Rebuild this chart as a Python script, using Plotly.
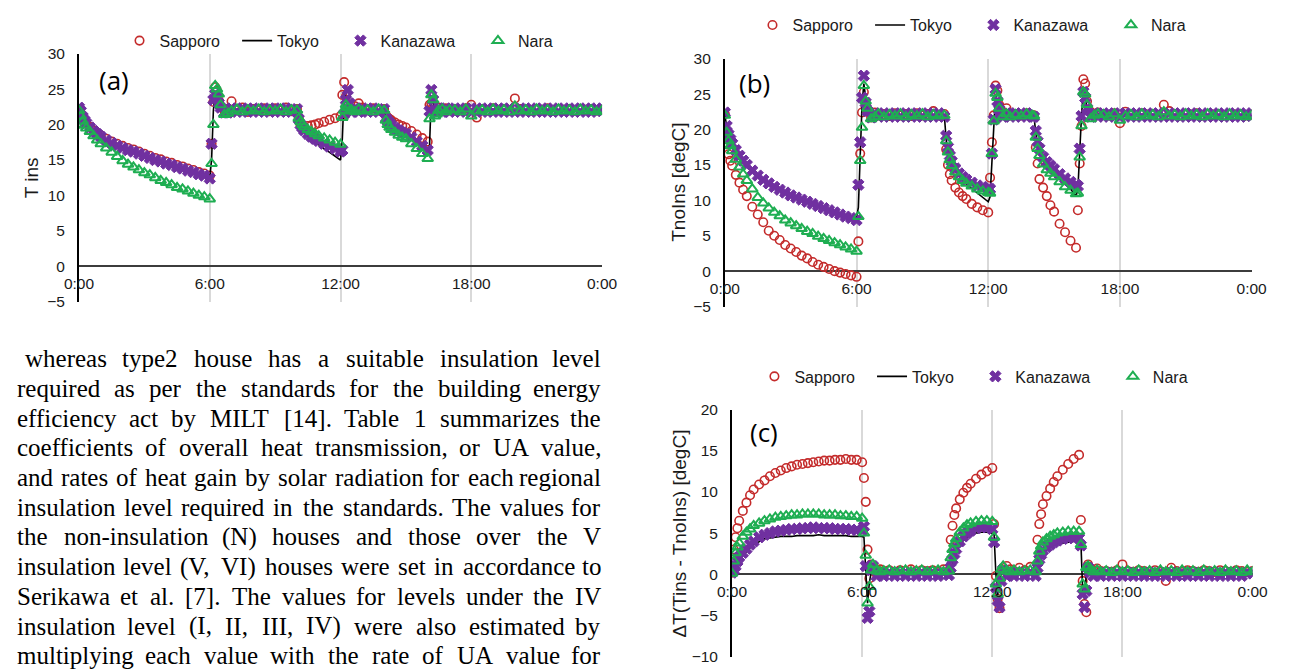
import plotly.graph_objects as go

W, H = 1293, 671

# ---------------- data ----------------
minutes = [0, 5, 10, 15, 20, 30, 40, 50, 60, 75, 90, 105, 120, 135, 150, 165, 180, 195, 210, 225, 240, 255, 270, 285, 300, 315, 330, 345, 360,
           365, 370, 375, 380, 385, 390, 400, 410, 420, 435, 450, 465, 480, 495, 510, 525, 540, 555, 570, 585, 600,
           605, 610, 615, 620, 630, 640, 650, 660, 675, 690, 705, 720,
           725, 730, 735, 740, 745, 750, 760, 770, 780, 795, 810, 825, 840,
           845, 850, 855, 860, 870, 880, 890, 900, 915, 930, 945, 960,
           965, 970, 975, 980, 985, 990, 1000, 1010, 1020,
           1035, 1050, 1065, 1080, 1095, 1110, 1125, 1140, 1155, 1170, 1185, 1200, 1215, 1230,
           1245, 1260, 1275, 1290, 1305, 1320, 1335, 1350, 1365, 1380, 1395, 1410, 1425, 1440]

tick_minutes = [0, 360, 720, 1080, 1440]
tick_labels = ["0:00", "6:00", "12:00", "18:00", "0:00"]
series_names = ["Sapporo", "Tokyo", "Kanazawa", "Nara"]

a_sapporo = [22.2, 21.6, 21.0, 20.6, 20.2, 19.7, 19.2, 18.8, 18.5, 18.0, 17.6, 17.3, 17.0, 16.7, 16.5, 16.2, 15.9, 15.6, 15.3, 15.1, 14.8, 14.6, 14.3, 14.1, 13.8, 13.6, 13.3, 13.1, 12.8,
             17.3, 23.2, 25.3, 24.8, 23.4, 22.6, 22.0, 22.2, 23.3, 22.2, 22.4, 21.8, 22.2, 22.0, 22.3, 21.9, 22.3, 22.0, 22.4, 21.9, 22.2,
             20.9, 20.0, 19.6, 19.6, 19.8, 19.9, 20.0, 20.2, 20.4, 20.7, 20.9, 21.2,
             24.2, 26.0, 24.0, 22.8, 22.0, 22.3, 22.6, 23.0, 22.4, 22.1, 22.3, 22.0, 22.2,
             21.3, 21.0, 20.8, 20.6, 20.3, 20.0, 19.8, 19.6, 19.1, 18.6, 18.1, 17.6,
             22.8, 23.0, 22.5, 22.0, 21.8, 22.4, 22.0, 22.3, 22.0,
             22.2, 22.0, 22.3, 22.8, 21.0, 22.2, 22.0, 22.3, 22.1, 22.2, 22.0, 23.7, 22.2, 22.1,
             22.0, 22.2, 22.1, 22.3, 22.0, 22.2, 22.1, 22.2, 22.0, 22.2, 22.1, 22.2, 22.0, 22.1]
a_tokyo = [22.0, 21.7, 21.0, 20.5, 20.1, 19.5, 19.0, 18.6, 18.2, 17.7, 17.3, 16.9, 16.6, 16.3, 16.1, 15.8, 15.5, 15.2, 14.9, 14.7, 14.4, 14.2, 13.9, 13.7, 13.4, 13.2, 12.9, 12.7, 12.5,
           15.0, 22.0, 24.5, 24.0, 23.0, 22.4, 21.8, 21.8, 22.2, 21.9, 22.2, 21.9, 22.2, 21.9, 22.2, 21.9, 22.2, 21.9, 22.2, 21.9, 22.1,
           20.6, 19.8, 19.3, 18.9, 18.3, 17.9, 17.5, 17.1, 16.6, 16.1, 15.6, 15.0,
           18.0, 24.5, 23.8, 22.8, 22.2, 21.9, 22.2, 21.9, 22.2, 21.9, 22.2, 21.9, 22.1,
           21.0, 20.5, 20.1, 19.8, 19.4, 19.1, 18.8, 18.5, 18.0, 17.5, 17.0, 16.6,
           17.0, 24.0, 23.0, 22.0, 21.8, 22.2, 21.9, 22.2, 21.9,
           22.1, 21.9, 22.1, 22.0, 21.9, 22.1, 22.0, 21.9, 22.1, 22.0, 21.9, 22.1, 22.0, 21.9,
           22.1, 22.0, 21.9, 22.1, 22.0, 21.9, 22.1, 22.0, 21.9, 22.1, 22.0, 21.9, 22.1, 22.0]
a_kanazawa = [22.4, 21.9, 21.1, 20.6, 20.2, 19.6, 19.1, 18.7, 18.3, 17.8, 17.4, 17.0, 16.7, 16.4, 16.2, 15.9, 15.6, 15.3, 15.0, 14.8, 14.5, 14.3, 14.0, 13.8, 13.5, 13.3, 13.0, 12.8, 12.4,
              17.3, 23.5, 24.3, 23.8, 23.0, 22.4, 21.7, 21.7, 22.3, 21.8, 22.3, 21.8, 22.3, 21.8, 22.3, 21.8, 22.3, 21.8, 22.3, 21.8, 22.2,
              20.8, 20.0, 19.6, 19.2, 18.7, 18.3, 18.0, 17.7, 17.3, 16.9, 16.6, 16.2,
              16.4, 21.5, 23.5, 24.9, 23.0, 21.8, 22.3, 21.8, 22.3, 21.8, 22.3, 21.8, 22.2,
              20.9, 20.5, 20.2, 19.9, 19.5, 19.2, 18.9, 18.7, 18.2, 17.6, 17.0, 16.4,
              21.9, 24.9, 23.5, 22.0, 21.7, 22.3, 21.8, 22.3, 21.8,
              22.3, 21.8, 22.3, 21.8, 22.3, 21.8, 22.3, 21.8, 22.3, 21.8, 22.3, 21.8, 22.3, 21.8,
              22.3, 21.8, 22.3, 21.8, 22.3, 21.8, 22.3, 21.8, 22.3, 21.8, 22.3, 21.8, 22.3, 21.9]
a_nara = [22.0, 21.2, 20.5, 19.9, 19.5, 19.0, 18.4, 17.8, 17.3, 16.7, 16.1, 15.5, 14.9, 14.4, 14.0, 13.6, 13.2, 12.9, 12.5, 12.1, 11.8, 11.5, 11.1, 10.9, 10.6, 10.3, 10.0, 9.8, 9.5,
          14.5, 20.0, 25.5, 25.0, 24.3, 22.8, 21.4, 21.6, 21.9, 22.2, 21.8, 22.1, 21.9, 22.2, 21.8, 22.1, 21.9, 22.2, 21.8, 22.1, 22.0,
          20.9, 20.4, 20.0, 19.7, 19.3, 19.0, 18.7, 18.4, 18.1, 17.8, 17.5, 17.2,
          21.0, 22.0, 22.8, 22.4, 21.9, 22.1, 21.8, 22.2, 21.9, 22.1, 21.8, 22.2, 22.0,
          20.6, 20.0, 19.6, 19.3, 18.9, 18.5, 18.2, 18.0, 17.3, 16.6, 15.9, 15.2,
          20.8, 24.2, 23.5, 21.2, 21.5, 22.0, 22.2, 21.8, 22.1,
          22.1, 21.8, 22.2, 21.2, 21.9, 22.1, 21.8, 22.2, 21.9, 22.1, 21.8, 22.6, 21.9, 22.1,
          21.8, 22.2, 21.9, 22.1, 21.8, 22.2, 21.9, 22.1, 21.8, 22.2, 21.9, 22.1, 21.8, 22.0]

b_sapporo = [22.2, 18.0, 16.5, 15.6, 14.9, 13.6, 12.5, 11.5, 10.6, 9.1, 8.0, 6.9, 5.7, 5.0, 4.4, 3.7, 3.2, 2.7, 2.2, 1.8, 1.3, 0.9, 0.6, 0.3, 0.0, -0.2, -0.4, -0.6, -0.8,
             4.2, 16.6, 22.4, 25.3, 23.2, 22.5, 21.7, 22.4, 22.0, 22.2, 21.9, 22.3, 22.0, 22.2, 21.9, 22.3, 22.0, 22.2, 22.6, 22.0, 22.2,
             17.2, 15.0, 13.7, 12.8, 11.8, 11.1, 10.6, 10.2, 9.5, 9.0, 8.6, 8.3,
             13.2, 18.2, 22.0, 26.2, 25.5, 23.5, 22.5, 23.0, 22.0, 22.2, 22.0, 22.3, 22.0,
             22.0, 17.5, 15.2, 13.0, 11.8, 10.6, 9.3, 8.4, 6.7, 5.5, 4.3, 3.3,
             8.6, 15.2, 20.5, 27.1, 26.5, 24.0, 22.5, 22.0, 22.4,
             22.2, 22.0, 22.3, 20.9, 22.5, 22.1, 22.0, 22.3, 22.1, 22.2, 22.0, 23.5, 22.6, 22.1,
             22.0, 22.2, 22.1, 22.3, 22.0, 22.2, 22.1, 22.2, 22.0, 22.2, 22.1, 22.2, 22.0, 22.1]
b_tokyo = [22.2, 20.3, 19.2, 18.5, 17.9, 17.0, 16.3, 15.6, 15.0, 14.2, 13.6, 13.0, 12.5, 12.0, 11.6, 11.2, 10.8, 10.5, 10.2, 9.9, 9.6, 9.3, 9.0, 8.7, 8.4, 8.1, 7.9, 7.7, 7.6,
           9.0, 17.5, 23.5, 26.5, 24.0, 22.5, 21.8, 22.2, 21.9, 22.2, 21.9, 22.2, 21.9, 22.2, 21.9, 22.2, 21.9, 22.2, 21.9, 22.2, 22.0,
           18.6, 17.0, 15.9, 15.1, 14.1, 13.4, 12.8, 12.3, 11.7, 11.0, 10.4, 9.8,
           10.5, 16.0, 21.5, 25.0, 24.0, 23.0, 22.2, 21.9, 22.2, 21.9, 22.2, 21.9, 22.1,
           21.9, 19.5, 17.9, 16.8, 15.6, 14.8, 14.2, 13.7, 13.0, 12.3, 11.6, 10.6,
           11.5, 18.0, 22.0, 25.5, 24.5, 23.0, 22.2, 21.9, 22.2,
           22.1, 21.9, 22.1, 22.0, 21.9, 22.1, 22.0, 21.9, 22.1, 22.0, 21.9, 22.1, 22.0, 21.9,
           22.1, 22.0, 21.9, 22.1, 22.0, 21.9, 22.1, 22.0, 21.9, 22.1, 22.0, 21.9, 22.1, 22.0]
b_kanazawa = [22.4, 20.5, 19.3, 18.6, 18.0, 17.1, 16.3, 15.6, 15.0, 14.2, 13.5, 12.9, 12.4, 11.9, 11.5, 11.1, 10.7, 10.4, 10.1, 9.8, 9.5, 9.2, 8.9, 8.6, 8.3, 8.0, 7.7, 7.5, 7.2,
              12.2, 18.2, 24.5, 27.6, 23.8, 22.6, 21.7, 22.3, 21.8, 22.3, 21.8, 22.3, 21.8, 22.3, 21.8, 22.3, 21.8, 22.3, 21.8, 22.3, 21.8,
              19.1, 17.5, 16.3, 15.5, 14.5, 13.8, 13.3, 12.9, 12.5, 12.1, 11.9, 11.7,
              11.6, 16.6, 21.4, 25.7, 24.0, 22.8, 21.8, 22.3, 21.8, 22.3, 21.8, 22.3, 21.8,
              21.8, 19.8, 18.3, 17.3, 16.1, 15.4, 14.9, 14.4, 13.7, 13.1, 12.6, 12.2,
              12.0, 17.3, 21.9, 25.3, 24.5, 23.0, 21.8, 22.3, 21.8,
              22.3, 21.8, 22.3, 21.8, 22.3, 21.8, 22.3, 21.8, 22.3, 21.8, 22.3, 21.8, 22.3, 21.8,
              22.3, 21.8, 22.3, 21.8, 22.3, 21.8, 22.3, 21.8, 22.3, 21.8, 22.3, 21.8, 22.3, 21.9]
b_nara = [22.0, 19.6, 18.4, 17.7, 17.0, 15.8, 14.7, 13.7, 12.8, 11.6, 10.4, 9.6, 8.9, 8.3, 7.8, 7.2, 6.8, 6.4, 6.0, 5.6, 5.3, 4.9, 4.6, 4.3, 4.0, 3.7, 3.4, 3.1, 2.8,
          7.7, 15.6, 20.3, 26.2, 24.0, 23.0, 21.5, 21.8, 22.2, 21.8, 22.1, 21.9, 22.2, 21.8, 22.1, 21.9, 22.2, 21.8, 22.1, 21.9, 22.0,
          18.4, 16.8, 15.7, 14.9, 14.0, 13.3, 12.8, 12.4, 12.0, 11.6, 11.3, 11.1,
          11.0, 16.6, 21.2, 25.1, 24.5, 23.0, 21.8, 22.2, 21.8, 22.1, 21.9, 22.2, 22.0,
          21.9, 18.9, 17.3, 16.3, 15.1, 14.3, 13.8, 13.3, 12.6, 11.9, 11.4, 10.9,
          11.0, 16.1, 20.5, 25.3, 25.0, 23.5, 21.5, 22.0, 22.2,
          22.1, 21.8, 22.2, 21.3, 21.9, 22.1, 21.8, 22.2, 21.9, 22.1, 21.8, 22.5, 21.9, 22.1,
          21.8, 22.2, 21.9, 22.1, 21.8, 22.2, 21.9, 22.1, 21.8, 22.2, 21.9, 22.1, 21.8, 22.0]

c_sapporo = [0.2, 3.0, 4.5, 5.6, 6.5, 7.7, 8.7, 9.6, 10.3, 10.9, 11.4, 11.9, 12.3, 12.6, 12.9, 13.1, 13.3, 13.4, 13.5, 13.6, 13.7, 13.8, 13.8, 13.9, 13.9, 14.0, 13.9, 13.9, 13.6,
             11.7, 8.8, 3.0, -0.5, 1.2, 0.8, 0.5, 0.6, 0.4, 0.5, 0.3, 0.5, 0.4, 0.6, 0.3, 0.5, 0.4, 0.5, 0.3, 0.6, 0.4,
             4.2, 5.9, 7.2, 8.0, 9.1, 9.9, 10.5, 11.0, 11.6, 12.1, 12.5, 12.9,
             6.1, -0.2, -3.0, -4.1, -0.5, 0.5, 1.0, 0.6, 0.4, 0.8, 0.5, 0.9, 0.4,
             4.2, 6.1, 7.3, 8.5, 9.5, 10.4, 11.2, 11.9, 12.7, 13.4, 14.0, 14.5,
             6.6, -0.8, -3.6, -4.6, 1.2, 0.8, 0.5, 0.7, 0.4,
             0.4, 0.3, 0.5, 1.2, 0.4, 0.3, 0.5, 0.4, 0.3, 0.5, 0.3, -0.8, 0.8, 0.4,
             0.3, 0.5, 0.4, 0.3, 0.5, 0.4, 0.3, 0.5, 0.4, 0.3, 0.5, 0.4, 0.3, 0.4]
c_tokyo = [0.0, 0.3, 0.8, 1.3, 1.7, 2.3, 2.8, 3.2, 3.6, 4.0, 4.3, 4.4, 4.5, 4.6, 4.6, 4.6, 4.7, 4.7, 4.7, 4.7, 4.8, 4.7, 4.7, 4.7, 4.7, 4.7, 4.6, 4.6, 4.6,
           4.5, 0.0, -3.5, -1.0, 0.2, 0.3, 0.1, 0.1, 0.0, 0.1, 0.0, 0.0, 0.1, 0.0, 0.0, 0.1, 0.0, 0.0, 0.1, 0.0, 0.0,
           0.5, 1.5, 2.2, 2.8, 3.6, 4.1, 4.5, 4.7, 5.0, 5.1, 5.1, 5.0,
           4.8, 0.0, -2.5, -1.0, 0.2, 0.3, 0.1, 0.0, 0.1, 0.0, 0.1, 0.0, 0.1,
           0.6, 1.5, 2.1, 2.6, 3.0, 3.3, 3.5, 3.7, 3.8, 3.9, 4.0, 4.0,
           4.0, -2.0, -3.0, 0.0, 0.2, 0.1, 0.0, 0.1, 0.0,
           0.0, 0.1, 0.0, 0.0, 0.1, 0.0, 0.0, 0.1, 0.0, 0.0, 0.1, 0.0, 0.0, 0.1,
           0.0, 0.0, 0.1, 0.0, 0.0, 0.1, 0.0, 0.0, 0.1, 0.0, 0.0, 0.1, 0.0, 0.0]
c_kanazawa = [0.2, 0.5, 1.0, 1.6, 2.1, 2.6, 3.1, 3.6, 4.0, 4.5, 4.8, 5.0, 5.2, 5.3, 5.4, 5.5, 5.5, 5.6, 5.6, 5.7, 5.6, 5.6, 5.6, 5.5, 5.5, 5.5, 5.4, 5.4, 5.3,
              5.8, 1.0, -5.3, -4.5, 0.5, 1.0, -0.2, 0.2, -0.2, 0.2, -0.2, 0.2, -0.2, 0.2, -0.2, 0.2, -0.2, 0.2, -0.2, 0.2, -0.1,
              0.8, 1.8, 2.5, 3.1, 4.0, 4.6, 5.0, 5.3, 5.6, 5.7, 5.7, 5.5,
              3.9, -1.6, -3.2, -4.0, -0.8, 0.6, -0.2, 0.2, -0.2, 0.2, -0.2, 0.2, -0.2,
              0.8, 1.8, 2.4, 2.9, 3.3, 3.6, 3.9, 4.1, 4.3, 4.4, 4.4, 4.4,
              3.5, -2.4, -4.0, -2.0, 0.8, 0.2, -0.2, 0.2, -0.2,
              0.2, -0.2, 0.2, -0.2, 0.2, -0.2, 0.2, -0.2, 0.2, -0.2, 0.2, -0.2, 0.2, -0.2,
              0.2, -0.2, 0.2, -0.2, 0.2, -0.2, 0.2, -0.2, 0.2, -0.2, 0.2, -0.2, 0.2, 0.1]
c_nara = [0.1, 1.6, 2.6, 3.3, 3.8, 4.6, 5.1, 5.5, 5.9, 6.2, 6.5, 6.7, 6.9, 7.0, 7.1, 7.2, 7.2, 7.3, 7.3, 7.3, 7.3, 7.2, 7.2, 7.2, 7.1, 7.1, 7.0, 7.0, 6.8,
          5.0, 2.3, -3.5, -1.5, 0.5, 1.2, 0.4, 0.3, 0.4, 0.5, 0.3, 0.4, 0.5, 0.3, 0.4, 0.5, 0.3, 0.4, 0.5, 0.3, 0.4,
          2.0, 3.0, 3.7, 4.3, 5.1, 5.6, 6.0, 6.2, 6.4, 6.5, 6.5, 6.4,
          4.5, -1.2, -2.4, -0.5, 0.6, 1.0, 0.4, 0.3, 0.5, 0.3, 0.4, 0.5, 0.3,
          1.6, 2.8, 3.4, 3.9, 4.3, 4.6, 4.8, 5.0, 5.1, 5.2, 5.2, 5.2,
          3.6, -1.2, -1.8, 0.8, 1.0, 0.5, 0.3, 0.5, 0.3,
          0.4, 0.2, 0.5, 0.3, 0.4, 0.2, 0.5, 0.3, 0.4, 0.2, 0.5, 0.3, 0.4, 0.2,
          0.5, 0.3, 0.4, 0.2, 0.5, 0.3, 0.4, 0.2, 0.5, 0.3, 0.4, 0.2, 0.5, 0.3]

paragraph = [
    "whereas type2 house has a suitable insulation level",
    "required as per the standards for the building energy",
    "efficiency act by MILT [14]. Table 1 summarizes the",
    "coefficients of overall heat transmission, or UA value,",
    "and rates of heat gain by solar radiation for each regional",
    "insulation level required in the standards. The values for",
    "the non-insulation (N) houses and those over the V",
    "insulation level (V, VI) houses were set in accordance to",
    "Serikawa et al. [7]. The values for levels under the IV",
    "insulation level (I, II, III, IV) were also estimated by",
    "multiplying each value with the rate of UA value for",
]

for s in [a_sapporo, a_tokyo, a_kanazawa, a_nara, b_sapporo, b_tokyo, b_kanazawa, b_nara,
          c_sapporo, c_tokyo, c_kanazawa, c_nara]:
    assert len(s) == len(minutes), len(s)

# ---------------- styling ----------------
RED, PURPLE, GREEN = "#C42B2B", "#7030A0", "#1FAE52"
TXT = "#1a1a1a"
SANS = "Liberation Sans, Arial, sans-serif"
SERIF = "Liberation Serif, Times New Roman, serif"
NB, THIN = "\u00a0", "\u2009"


def fx(px):
    return px / W


def fy(py):
    return 1 - py / H


legend_pad = [NB * 2 + THIN, NB * 3 + THIN, NB * 4, ""]

panels = [
    dict(xa="xaxis", ya="yaxis", xr="x", yr="y", xpx=(65.5, 601), ypx=(300.3, 46), rng=[-5, 30], dt=5, zero=264,
         legend="legend", leg=(107, 32.5), title="T ins", tpx=(17, 173), label="(a)", lpx=(101, 73),
         data=(a_sapporo, a_tokyo, a_kanazawa, a_nara)),
    dict(xa="xaxis2", ya="yaxis2", xr="x2", yr="y2", xpx=(726.7, 1266), ypx=(305.3, 51), rng=[-5, 30], dt=5, zero=269,
         legend="legend2", leg=(755, 16.5), title="TnoIns [degC]", tpx=(679, 178), label="(b)", lpx=(757, 76),
         data=(b_sapporo, b_tokyo, b_kanazawa, b_nara)),
    dict(xa="xaxis3", ya="yaxis3", xr="x3", yr="y3", xpx=(734, 1267), ypx=(664.5, 411), rng=[-10, 20], dt=5, zero=580,
         legend="legend3", leg=(757, 377), title="ΔT(Tins - TnoIns) [degC]", tpx=(680, 538), label="(c)", lpx=(767, 434),
         data=(c_sapporo, c_tokyo, c_kanazawa, c_nara)),
]

fig = go.Figure()
layout = dict(width=W, height=H, margin=dict(l=0, r=0, t=0, b=0), paper_bgcolor="white",
              plot_bgcolor="white", showlegend=True, annotations=[])

for p in panels:
    sap, tok, kan, nar = p["data"]
    names = [n + pad for n, pad in zip(series_names, legend_pad)]
    common = dict(x=minutes, xaxis=p["xr"], yaxis=p["yr"], legend=p["legend"], hoverinfo="skip")
    fig.add_trace(go.Scatter(y=sap, name=names[0], mode="markers",
                             marker=dict(symbol="circle-open", size=8.5, color=RED, line=dict(width=1.6, color=RED)),
                             **common))
    fig.add_trace(go.Scatter(y=tok, name=names[1], mode="lines",
                             line=dict(color="black", width=1.6), **common))
    fig.add_trace(go.Scatter(y=kan, name=names[2], mode="markers",
                             marker=dict(symbol="x", size=10, color=PURPLE, line=dict(width=1, color=PURPLE)),
                             **common))
    fig.add_trace(go.Scatter(y=nar, name=names[3], mode="markers",
                             marker=dict(symbol="triangle-up-open", size=9.5, color=GREEN,
                                         line=dict(width=2, color=GREEN)),
                             **common))

    y0, y1 = p["ypx"]
    layout[p["xa"]] = dict(domain=[fx(p["xpx"][0]), fx(p["xpx"][1])], range=[0, 1440],
                           anchor="free", position=fy(p["zero"]),
                           tickvals=tick_minutes, ticktext=tick_labels,
                           showgrid=True, gridcolor="#d9d9d9", gridwidth=1.5,
                           showline=False, zeroline=False,
                           ticks="outside", ticklen=3, tickcolor="rgba(0,0,0,0)",
                           tickfont=dict(family=SANS, size=15.5, color=TXT))
    layout[p["ya"]] = dict(domain=[fy(y0), fy(y1)], range=p["rng"], dtick=p["dt"], anchor=p["xr"],
                           showgrid=False, showline=True, linecolor="black", linewidth=1.8,
                           zeroline=True, zerolinecolor="#3c3c3c", zerolinewidth=2,
                           ticks="outside", ticklen=9, tickcolor="rgba(0,0,0,0)",
                           tickfont=dict(family=SANS, size=15.5, color=TXT))
    layout[p["legend"]] = dict(orientation="h", x=fx(p["leg"][0]), y=fy(p["leg"][1]),
                               xanchor="left", yanchor="middle", bgcolor="rgba(0,0,0,0)",
                               font=dict(family=SANS, size=16, color=TXT), itemclick=False)
    layout["annotations"].append(dict(text=p["title"], x=fx(p["tpx"][0]), y=fy(p["tpx"][1]),
                                      xref="paper", yref="paper", showarrow=False, textangle=-90,
                                      xanchor="center", yanchor="middle",
                                      font=dict(family=SANS, size=19, color=TXT)))
    layout["annotations"].append(dict(text=p["label"], x=fx(p["lpx"][0]), y=fy(p["lpx"][1]),
                                      xref="paper", yref="paper", showarrow=False,
                                      xanchor="center", yanchor="middle",
                                      font=dict(family="Open Sans, sans-serif", size=26, color="black")))

# ---------------- justified paragraph ----------------
TW = {' ': 250, 'a': 444, 'b': 500, 'c': 444, 'd': 500, 'e': 444, 'f': 333, 'g': 500, 'h': 500, 'i': 278,
      'j': 278, 'k': 500, 'l': 278, 'm': 778, 'n': 500, 'o': 500, 'p': 500, 'q': 500, 'r': 333, 's': 389,
      't': 278, 'u': 500, 'v': 500, 'w': 722, 'x': 500, 'y': 500, 'z': 444, 'A': 722, 'B': 667, 'C': 667,
      'D': 722, 'E': 611, 'F': 556, 'G': 722, 'H': 722, 'I': 333, 'J': 389, 'K': 722, 'L': 611, 'M': 889,
      'N': 722, 'O': 722, 'P': 556, 'Q': 722, 'R': 667, 'S': 556, 'T': 611, 'U': 722, 'V': 722, 'W': 944,
      'X': 722, 'Y': 722, 'Z': 611, '.': 250, ',': 250, '(': 333, ')': 333, '[': 333, ']': 333, '-': 333,
      ':': 278}
PFS = 25
LEFT, RIGHT = 2, 600
LINE0, LINE_GAP = 359, 30.45


def wwidth(s):
    return sum(TW.get(ch, 500) for ch in s) * PFS / 1000


for i, line in enumerate(paragraph):
    words = line.split(" ")
    left = LEFT + (8 if i == 0 else 0)
    widths = [wwidth(w) for w in words]
    gap = (RIGHT - left - sum(widths)) / (len(words) - 1)
    xpos = left
    ypx = LINE0 + i * LINE_GAP
    for j, (w, wd) in enumerate(zip(words, widths)):
        if j == len(words) - 1:
            ann = dict(x=fx(RIGHT), xanchor="right")
        else:
            ann = dict(x=fx(xpos), xanchor="left")
        ann.update(text=w, y=fy(ypx), yanchor="middle", xref="paper", yref="paper", showarrow=False,
                   borderpad=0, borderwidth=0,
                   font=dict(family=SERIF, size=PFS, color="black"))
        layout["annotations"].append(ann)
        xpos += wd + gap

fig.update_layout(**layout)
fig.write_html("out.html",
               post_script="document.body.style.margin='0';document.body.style.overflow='hidden';")
